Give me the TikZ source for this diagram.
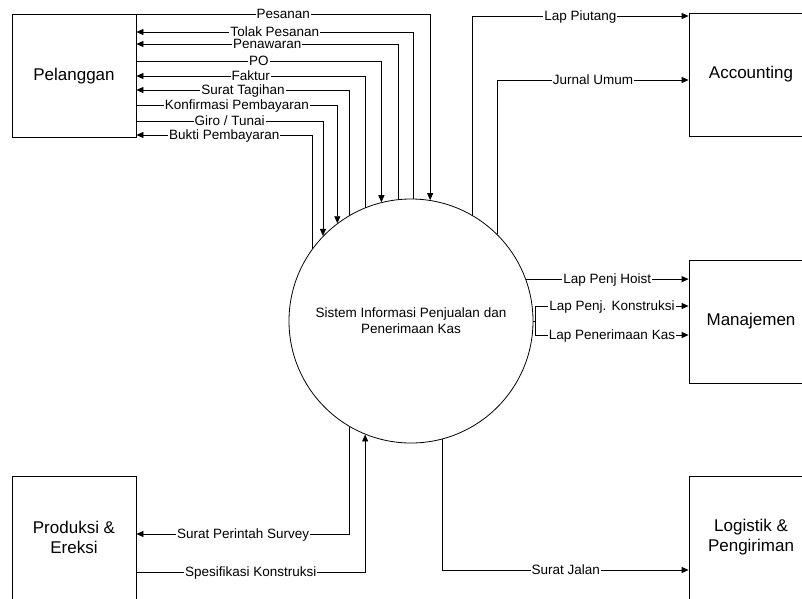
\documentclass[tikz,border=0pt]{standalone}
\usepackage{fontspec}
\setmainfont{Liberation Sans}
\usetikzlibrary{arrows.meta,calc}
\begin{document}
\begin{tikzpicture}[x=1pt,y=-1pt,
  line width=0.8pt,
  ent/.style={draw, minimum width=124pt, minimum height=123pt, inner sep=0pt, align=center, font=\fontsize{17}{20}\selectfont},
  proc/.style={draw, circle, minimum size=244pt, inner sep=0pt, align=center, font=\fontsize{13.5}{16}\selectfont},
  lbl/.style={fill=white, font=\fontsize{13.5}{16}\selectfont, text height=9.6pt, text depth=0pt, inner xsep=1pt, inner ysep=0.5pt},
  flow/.style={-{Triangle[length=7pt,width=6pt]}},
  rflow/.style={{Triangle[length=7pt,width=6pt]}-}
]
\fill[white] (0,0) rectangle (802,598);
\useasboundingbox (0,0) rectangle (802,598);

\node[proc] (sys) at (411,321) {Sistem Informasi Penjualan dan\\Penerimaan Kas};
\node[ent] (pel) at (74,76) {Pelanggan};
\node[ent] (acc) at (751,74.5) {Accounting};
\node[ent] (man) at (751,321.5) {Manajemen};
\node[ent] (prod) at (74,537.5) {Produksi \&\\Ereksi};
\node[ent] (log) at (751,537.5) {Logistik \&\\Pengiriman};

% Pelanggan flows
\draw[flow]  (pel.east |- 0,14)  -| node[lbl,pos=.25]{Pesanan} (sys.81);
\draw[rflow] (pel.east |- 0,32)  -| node[lbl,pos=.25]{Tolak Pesanan} (sys.89.5);
\draw[rflow] (pel.east |- 0,44)  -| node[lbl,pos=.25]{Penawaran} (sys.96.6);
\draw[flow]  (pel.east |- 0,61)  -| node[lbl,pos=.25]{PO} (sys.104.2);
\draw[rflow] (pel.east |- 0,76)  -| node[lbl,pos=.25]{Faktur} (sys.112.7);
\draw[rflow] (pel.east |- 0,90)  -| node[lbl,pos=.25]{Surat Tagihan} (sys.120);
\draw[flow]  (pel.east |- 0,105) -| node[lbl,pos=.25]{Konfirmasi Pembayaran} (sys.127.3);
\draw[flow]  (pel.east |- 0,121) -| node[lbl,pos=.25]{Giro / Tunai} (sys.136.2);
\draw[rflow] (pel.east |- 0,135) -| node[lbl,pos=.25]{Bukti Pembayaran} (sys.144.2);

% Accounting
\draw[flow] (sys.60.5) |- node[lbl,pos=.75]{Lap Piutang} (acc.west |- 0,16);
\draw[flow] (sys.45.8) |- node[lbl,pos=.75]{Jurnal Umum} (acc.west |- 0,80);

% Manajemen
\draw[flow] (sys.20.6) -- node[lbl]{Lap Penj Hoist} (sys.20.6 -| man.west);
\coordinate (kj) at ($(sys.east)+(2,0)$);
\draw (sys.east) -- (kj);
\draw[flow] (kj) |- node[lbl,pos=.75]{Lap Penj. Konstruksi} (man.west |- 0,306);
\draw[flow] (kj) |- node[lbl,pos=.75]{Lap Penerimaan Kas} (man.west |- 0,335);

% Produksi & Logistik
\draw[flow] (sys.240) |- node[lbl,pos=.75]{Surat Perintah Survey} (prod.east |- 0,534);
\draw[flow] (prod.east |- 0,572) -| node[lbl,pos=.25]{Spesifikasi Konstruksi} (sys.248.9);
\draw[flow] (sys.285.2) |- node[lbl,pos=.75]{Surat Jalan} (log.west |- 0,570);
\end{tikzpicture}
\end{document}
